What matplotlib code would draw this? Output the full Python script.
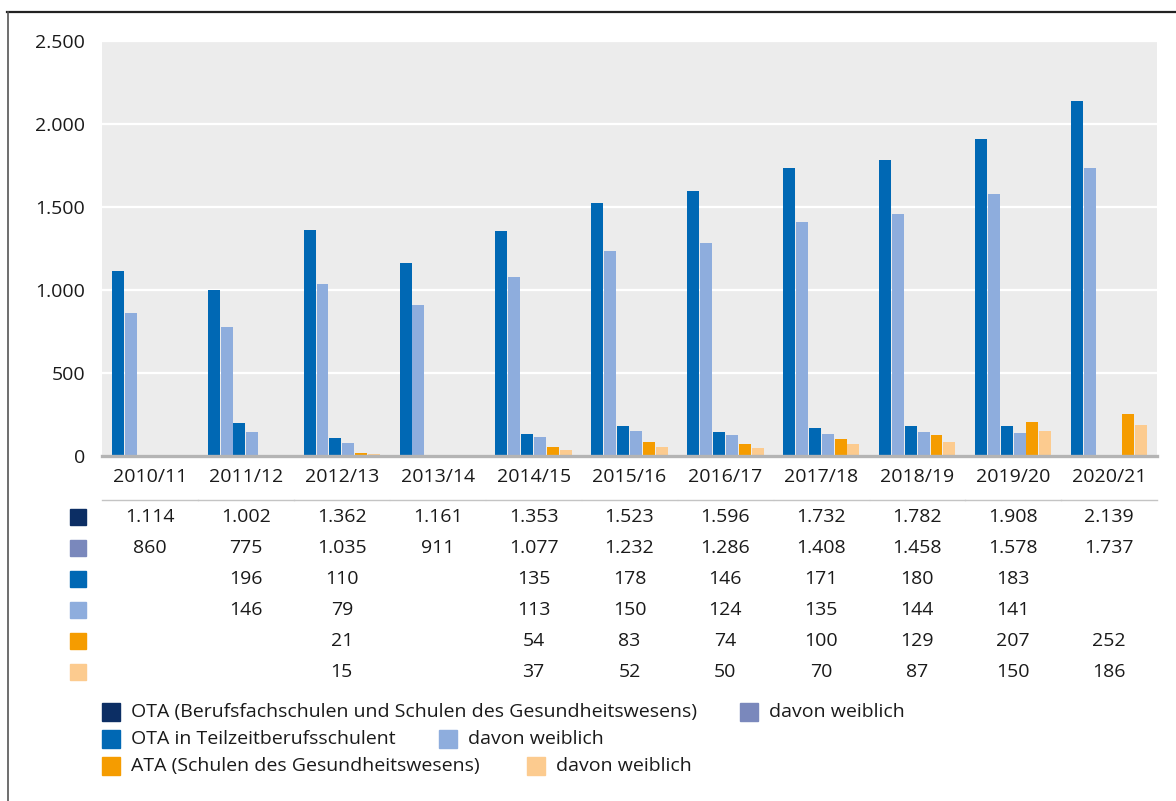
import numpy as np
import matplotlib
matplotlib.use("Agg")
import matplotlib.pyplot as plt
from matplotlib.patches import Rectangle
from matplotlib.lines import Line2D
import matplotlib.transforms as mtransforms

plt.rcParams['font.family'] = ['Open Sans', 'DejaVu Sans']

categories = ["2010/11", "2011/12", "2012/13", "2013/14", "2014/15", "2015/16",
              "2016/17", "2017/18", "2018/19", "2019/20", "2020/21"]
nan = np.nan
ota_total = [1114, 1002, 1362, 1161, 1353, 1523, 1596, 1732, 1782, 1908, 2139]
ota_female = [860, 775, 1035, 911, 1077, 1232, 1286, 1408, 1458, 1578, 1737]
ota_tz_total = [nan, 196, 110, nan, 135, 178, 146, 171, 180, 183, nan]
ota_tz_female = [nan, 146, 79, nan, 113, 150, 124, 135, 144, 141, nan]
ata_total = [nan, nan, 21, nan, 54, 83, 74, 100, 129, 207, 252]
ata_female = [nan, nan, 15, nan, 37, 52, 50, 70, 87, 150, 186]

series = [ota_total, ota_female, ota_tz_total, ota_tz_female, ata_total, ata_female]
bar_colors = ["#0068b4", "#8eaddd", "#0068b4", "#8eaddd", "#f59c00", "#fccb8f"]
key_colors = ["#0c2e64", "#7a88bc", "#0068b4", "#8eaddd", "#f59c00", "#fccb8f"]
legend_labels = ["OTA (Berufsfachschulen und Schulen des Gesundheitswesens)", "davon weiblich",
                 "OTA in Teilzeitberufsschulent", "davon weiblich",
                 "ATA (Schulen des Gesundheitswesens)", "davon weiblich"]
yticks = [0, 500, 1000, 1500, 2000, 2500]

W, H = 1176, 801
fig = plt.figure(figsize=(W / 100, H / 100), dpi=100)

def fx(x):
    return x / W

def fy(y):
    return 1 - y / H

def fmt(v):
    return f"{int(v):,}".replace(",", ".")

left, right, top, bottom = 102, 1157, 41, 456
ax = fig.add_axes([fx(left), fy(bottom), fx(right - left), (bottom - top) / H])
ax.set_facecolor("#ececec")

n = len(categories)
x = np.arange(n)
slot = 0.134
bw = slot * 0.93
for i, (vals, col) in enumerate(zip(series, bar_colors)):
    offs = (i - 2.5) * slot
    ax.bar(x + offs, np.array(vals, dtype=float), width=bw, color=col, zorder=2, linewidth=0)

ax.set_xlim(-0.5, n - 0.5)
ax.set_ylim(0, 2500)
ax.set_yticks(yticks)
ax.set_yticklabels([fmt(v) for v in yticks])
ax.grid(axis='y', color='white', linewidth=1.6, zorder=1)
ax.set_axisbelow(True)
for s in ['top', 'right', 'left']:
    ax.spines[s].set_visible(False)
ax.spines['bottom'].set_color('#b4b4b4')
ax.spines['bottom'].set_linewidth(2.4)
ax.spines['bottom'].set_zorder(3)
ax.tick_params(axis='y', length=0, pad=12, labelsize=14, labelcolor='#1a1a1a')
for lbl in ax.get_yticklabels():
    lbl.set_y(lbl.get_position()[1])
ax.set_xticks(x)
ax.set_xticklabels(categories)
ax.tick_params(axis='x', length=0, pad=9, labelsize=14, labelcolor='#1a1a1a')

# Data table below
trans = mtransforms.blended_transform_factory(ax.transData, fig.transFigure)
for j in range(n):
    ax.plot([j - 0.497, j + 0.497], [fy(500), fy(500)], transform=trans, color='#c4c4c4',
            linewidth=1.0, clip_on=False)
row_y = [517, 548, 579, 610, 641, 672]
for r, (vals, kc, ry) in enumerate(zip(series, key_colors, row_y)):
    fig.patches.append(Rectangle((fx(70), fy(ry + 8)), fx(16), 16 / H, color=kc,
                                 transform=fig.transFigure, figure=fig))
    for j, v in enumerate(vals):
        if not np.isnan(v):
            fig.text(j, fy(ry), fmt(v), transform=trans, ha='center', va='center',
                     fontsize=14, color='#1a1a1a')

# Legend
leg_items = [
    (102, 712, key_colors[0], legend_labels[0]),
    (740, 712, key_colors[1], legend_labels[1]),
    (102, 739, key_colors[2], legend_labels[2]),
    (439, 739, key_colors[3], legend_labels[3]),
    (102, 766, key_colors[4], legend_labels[4]),
    (527, 766, key_colors[5], legend_labels[5]),
]
for lx, ly, c, lab in leg_items:
    fig.patches.append(Rectangle((fx(lx), fy(ly + 9)), fx(18), 18 / H, color=c,
                                 transform=fig.transFigure, figure=fig))
    fig.text(fx(lx + 29), fy(ly), lab, ha='left', va='center', fontsize=14, color='#1a1a1a')

# Frame lines
fig.add_artist(Line2D([fx(7), 1], [fy(12), fy(12)], color='#222222', linewidth=1.6,
                      transform=fig.transFigure))
fig.add_artist(Line2D([fx(7.5), fx(7.5)], [fy(12), 0], color='#555555', linewidth=1.2,
                      transform=fig.transFigure))

fig.savefig("out.png", dpi=100)
